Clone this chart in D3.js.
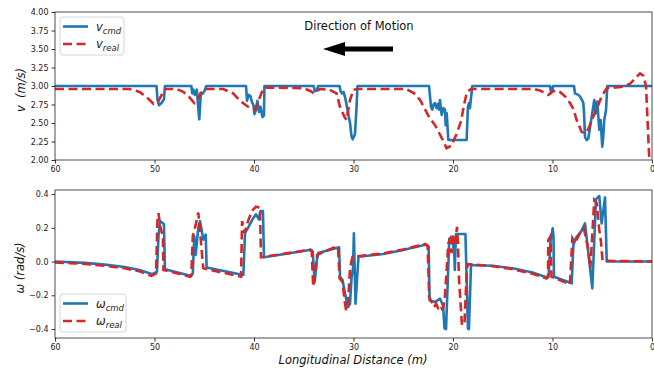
<!DOCTYPE html>
<html>
<head>
<meta charset="utf-8">
<script src="https://cdn.jsdelivr.net/npm/d3@7"></script>
<style>
  body { margin: 0; background: #fff; }
  svg { display: block; font-family: "DejaVu Sans", sans-serif; }
</style>
</head>
<body>
<div id="chart"></div>
<script>

// distance (m) -> value
const vCmd = [
  [60, 3.0], [49.8, 3.0], [49.7, 2.82], [49.55, 2.74], [49.3, 2.77], [49.05, 2.82], [48.95, 3.0],
  [46.3, 3.0], [46.2, 2.9], [46.1, 2.95], [45.95, 2.88], [45.75, 2.95], [45.6, 2.7], [45.5, 2.55],
  [45.35, 2.88], [45.15, 2.9], [44.95, 2.94], [44.8, 3.0],
  [40.8, 3.0], [40.7, 2.8], [40.55, 2.88], [40.35, 2.86], [40.2, 2.78], [40.05, 2.74], [39.95, 2.62],
  [39.8, 2.68], [39.65, 2.8], [39.5, 2.65], [39.35, 2.72], [39.15, 2.58], [39.0, 2.6], [38.95, 3.0],
  [34.0, 3.0], [33.9, 2.93], [33.7, 2.94], [33.55, 3.0],
  [31.4, 3.0], [31.3, 2.93], [31.15, 2.9], [31.0, 2.92], [30.85, 2.85], [30.7, 2.75], [30.5, 2.6],
  [30.35, 2.5], [30.2, 2.32], [30.08, 2.28], [29.85, 2.35], [29.7, 2.7], [29.6, 3.0],
  [22.41, 3.0], [22.21, 2.72], [22.08, 2.68], [21.95, 2.75], [21.81, 2.77], [21.65, 2.70], [21.5, 2.76],
  [21.4, 2.68], [21.31, 2.81], [21.14, 2.61], [20.95, 2.70], [20.8, 2.68], [20.74, 2.47], [20.63, 2.63],
  [20.47, 2.27], [18.63, 2.27], [18.5, 2.72], [18.4, 2.77], [18.3, 2.70], [18.06, 3.0],
  [10.25, 3.0], [10.15, 2.92], [10.0, 2.94], [9.95, 3.0],
  [7.84, 3.0], [7.74, 2.90], [7.41, 2.88], [7.24, 2.86], [7.07, 2.82], [6.9, 2.77], [6.83, 2.63],
  [6.73, 2.31], [6.56, 2.27], [6.4, 2.29], [5.8, 2.81], [5.66, 2.63], [5.5, 2.79], [5.3, 2.41],
  [5.16, 2.54], [5.0, 2.18], [4.9, 2.31], [4.8, 2.54], [4.62, 2.68], [4.49, 3.0], [0, 3.0]
];
const vReal = [
  [60, 2.96], [52.5, 2.96], [51.5, 2.92], [50.8, 2.85], [50.1, 2.76], [49.6, 2.8], [49.2, 2.9], [48.9, 2.96],
  [47.8, 2.96], [47.1, 2.92], [46.5, 2.85], [46.0, 2.77], [45.6, 2.82], [45.4, 2.9], [44.8, 2.96],
  [43.1, 2.96], [42.1, 2.9], [41.4, 2.8], [40.6, 2.72], [39.9, 2.68], [39.4, 2.85], [39.1, 2.96],
  [38.8, 2.98], [35.0, 2.97], [34.3, 2.93], [33.97, 2.9], [33.4, 2.96], [32.4, 2.95], [31.7, 2.9],
  [31.36, 2.72], [30.9, 2.58], [30.7, 2.54], [30.35, 2.81], [30.0, 2.95], [29.6, 2.96],
  [24.7, 2.96], [23.9, 2.90], [23.3, 2.81], [22.4, 2.58], [21.8, 2.47], [21.1, 2.29], [20.65, 2.16],
  [20.2, 2.19], [19.7, 2.33], [19.2, 2.52], [18.9, 2.74], [18.6, 2.92], [18.2, 2.96],
  [11.93, 2.96], [11.26, 2.94], [10.75, 2.90], [10.42, 2.88], [9.92, 2.93], [9.6, 2.94], [9.25, 2.92],
  [8.74, 2.86], [8.24, 2.77], [7.9, 2.69], [7.57, 2.54], [7.07, 2.38], [6.73, 2.36], [6.4, 2.42],
  [6.06, 2.54], [5.56, 2.69], [5.06, 2.86], [4.55, 2.97], [2.88, 2.99], [2.21, 3.03], [1.71, 3.10],
  [1.21, 3.17], [0.88, 3.14], [0.6, 3.0], [0.27, 2.0]
];
const wCmd = [
  [60, 0.0], [57, -0.008], [55, -0.018], [53, -0.032], [51.5, -0.05], [50.2, -0.075],
  [49.75, -0.06], [49.6, 0.15], [49.45, 0.24], [49.2, 0.23], [49.05, 0.22], [48.95, -0.046],
  [46.3, -0.085], [46.15, -0.07], [46.0, 0.15], [45.86, 0.04], [45.6, 0.2], [45.43, 0.24],
  [45.3, 0.2], [45.1, 0.13], [44.85, 0.16], [44.76, -0.035],
  [41.07, -0.08], [40.9, 0.17], [40.6, 0.2], [40.15, 0.25], [39.8, 0.28], [39.5, 0.25],
  [39.35, 0.3], [39.1, 0.3], [39.0, 0.025],
  [34.25, 0.07], [34.1, 0.06], [33.9, -0.12], [33.7, 0.0], [33.55, 0.05],
  [31.45, 0.085], [31.35, -0.09], [31.1, -0.11], [30.85, -0.19], [30.55, -0.27], [30.35, -0.25],
  [30.2, -0.1], [30.05, -0.04], [29.96, 0.167], [29.8, -0.25], [29.5, 0.028],
  [27, 0.045], [25, 0.068], [22.8, 0.1], [22.45, 0.09], [22.35, -0.23], [21.8, -0.24],
  [21.3, -0.22], [21.0, -0.26], [20.85, -0.396], [20.7, -0.4], [20.37, 0.137], [20.2, 0.11],
  [20.05, 0.15], [19.95, 0.08], [19.9, 0.13], [19.82, -0.05], [19.7, 0.163], [18.75, 0.163],
  [18.5, -0.396], [18.4, -0.4], [18.19, -0.02],
  [16, -0.025], [14, -0.04], [12, -0.065], [10.55, -0.094], [10.4, -0.09], [10.2, 0.12],
  [9.98, 0.197], [9.9, 0.15], [9.85, -0.09], [8.07, -0.129], [7.9, 0.098], [7.65, 0.14],
  [7.1, 0.18], [6.73, 0.226], [6.0, -0.159], [5.63, 0.37], [5.3, 0.388], [5.06, 0.226],
  [4.72, 0.38], [4.55, 0.0], [0, 0.0]
];
const wReal = [
  [60, -0.005], [57, -0.014], [55, -0.025], [53, -0.04], [51.5, -0.058], [50.3, -0.085],
  [49.85, -0.07], [49.7, 0.25], [49.6, 0.287], [49.4, 0.2], [49.15, 0.15], [49.1, -0.05],
  [46.4, -0.09], [46.3, -0.08], [46.15, 0.15], [45.85, 0.22], [45.6, 0.29], [45.45, 0.2],
  [45.25, 0.06], [45.1, -0.04],
  [41.3, -0.09], [41.2, 0.24], [40.95, 0.17], [40.6, 0.24], [40.2, 0.3], [39.8, 0.325],
  [39.4, 0.32], [39.3, 0.025],
  [34.4, 0.07], [34.2, 0.06], [34.05, -0.149], [33.8, -0.05], [33.65, 0.04],
  [31.7, 0.09], [31.55, 0.08], [31.4, -0.1], [31.1, -0.12], [30.9, -0.23], [30.75, -0.287],
  [30.55, -0.25], [30.35, -0.04], [30.1, 0.028],
  [27, 0.048], [25, 0.072], [22.8, 0.104], [22.55, 0.095], [22.45, -0.09], [22.4, -0.21],
  [22.14, -0.24], [21.9, -0.27], [21.7, -0.25], [21.5, -0.275], [21.3, -0.26], [21.1, -0.28],
  [20.97, -0.27], [20.8, -0.2], [20.47, 0.108], [20.3, 0.13], [20.15, 0.05], [19.95, 0.15],
  [19.75, 0.108], [19.6, 0.206], [19.5, 0.108], [19.4, -0.1], [19.1, -0.376], [18.85, -0.37],
  [18.6, -0.04], [18.5, -0.015],
  [16, -0.028], [14, -0.045], [12, -0.072], [10.6, -0.1], [10.45, -0.09], [10.42, 0.127],
  [10.2, 0.15], [10.1, -0.09], [8.25, -0.135], [8.0, 0.137], [7.75, 0.108], [7.25, 0.167],
  [6.85, 0.197], [6.4, 0.07], [6.2, -0.04], [5.8, 0.364], [5.55, 0.344], [5.3, 0.187],
  [5.13, 0.118], [4.97, 0.005], [0, 0.0]
];

const xTicks = [60, 50, 40, 30, 20, 10, 0];
const vTicks = [2.00, 2.25, 2.50, 2.75, 3.00, 3.25, 3.50, 3.75, 4.00];
const wTicks = [-0.4, -0.2, 0.0, 0.2, 0.4];
const vLegend = ['cmd', 'real'];
const wLegend = ['cmd', 'real'];

const W = 654, H = 369;
const blue = '#1f77b4', red = '#d62728';

const svg = d3.select('#chart').append('svg')
  .attr('width', W).attr('height', H);

const x = d3.scaleLinear().domain([60, 0]).range([55, 652]);
const yV = d3.scaleLinear().domain([2, 4]).range([160, 12]);
const yW = d3.scaleLinear().domain([-0.453, 0.424]).range([338, 190]);

function panel(id, y, ticks, fmt, cmd, real, sym, legY) {
  const [y1, y0] = y.range();
  const g = svg.append('g');

  g.append('clipPath').attr('id', id)
    .append('rect').attr('x', 55).attr('y', y0).attr('width', 597).attr('height', y1 - y0);

  const line = d3.line().x(d => x(d[0])).y(d => y(d[1]));
  const plot = g.append('g').attr('clip-path', `url(#${id})`);
  plot.append('path').datum(cmd).attr('d', line)
    .attr('fill', 'none').attr('stroke', blue).attr('stroke-width', 2.6)
    .attr('stroke-linejoin', 'round');
  plot.append('path').datum(real).attr('d', line)
    .attr('fill', 'none').attr('stroke', red).attr('stroke-width', 2.6)
    .attr('stroke-dasharray', '9,4.5');

  g.append('g').attr('transform', `translate(0,${y1})`)
    .call(d3.axisBottom(x).tickValues(xTicks).tickSize(3.5).tickSizeOuter(0).tickPadding(3));
  g.append('g').attr('transform', 'translate(55,0)')
    .call(d3.axisLeft(y).tickValues(ticks).tickFormat(d3.format(fmt)).tickSize(3.5).tickSizeOuter(0).tickPadding(3));
  g.selectAll('.domain').remove();
  g.selectAll('.tick line').attr('stroke', '#000').attr('stroke-width', 0.8);
  g.selectAll('.tick text').attr('fill', '#222').attr('font-size', 8)
    .attr('font-family', '"DejaVu Sans", sans-serif');

  g.append('rect').attr('x', 55).attr('y', y0).attr('width', 597).attr('height', y1 - y0)
    .attr('fill', 'none').attr('stroke', '#222').attr('stroke-width', 0.8);

  // legend
  const lg = g.append('g').attr('transform', `translate(60,${legY})`);
  lg.append('rect').attr('width', sym === 'v' ? 64 : 66).attr('height', 38).attr('rx', 3)
    .attr('fill', '#fff').attr('fill-opacity', 0.8).attr('stroke', '#ccc').attr('stroke-width', 0.8);
  [[blue, null], [red, '9,4.5']].forEach((s, i) => {
    const ly = 9.5 + i * 17.5;
    lg.append('line').attr('x1', 3).attr('x2', 28).attr('y1', ly).attr('y2', ly)
      .attr('stroke', s[0]).attr('stroke-width', 2.6).attr('stroke-dasharray', s[1]);
    const t = lg.append('text').attr('x', 36).attr('y', ly + 4).attr('font-size', 11.5)
      .attr('font-style', 'italic').attr('fill', '#222');
    t.append('tspan').text(sym === 'v' ? 'v' : 'ω');
    t.append('tspan').attr('dy', 3).attr('font-size', 8.5).text((sym === 'v' ? vLegend : wLegend)[i]);
  });
}

panel('clipV', yV, vTicks, '.2f', vCmd, vReal, 'v', 17);
panel('clipW', yW, wTicks, '.1f', wCmd, wReal, 'w', 294);

// axis labels
svg.append('text').attr('transform', 'translate(25,90) rotate(-90)')
  .attr('text-anchor', 'middle').attr('font-size', 11.5).attr('font-style', 'italic').attr('fill', '#111')
  .attr('xml:space', 'preserve').text('v  (m/s)');
svg.append('text').attr('transform', 'translate(24,268) rotate(-90)')
  .attr('text-anchor', 'middle').attr('font-size', 11.5).attr('font-style', 'italic').attr('fill', '#111')
  .text('ω (rad/s)');
svg.append('text').attr('x', 353).attr('y', 364)
  .attr('text-anchor', 'middle').attr('font-size', 11.5).attr('font-style', 'italic').attr('fill', '#111')
  .text('Longitudinal Distance (m)');

// direction of motion annotation
svg.append('text').attr('x', 359).attr('y', 30)
  .attr('text-anchor', 'middle').attr('font-size', 11.5).attr('fill', '#111')
  .text('Direction of Motion');
svg.append('line').attr('x1', 343).attr('x2', 393).attr('y1', 49).attr('y2', 49)
  .attr('stroke', '#000').attr('stroke-width', 5);
svg.append('path').attr('d', 'M323,49 L345,42 L345,56 Z').attr('fill', '#000');

</script>
</body>
</html>
